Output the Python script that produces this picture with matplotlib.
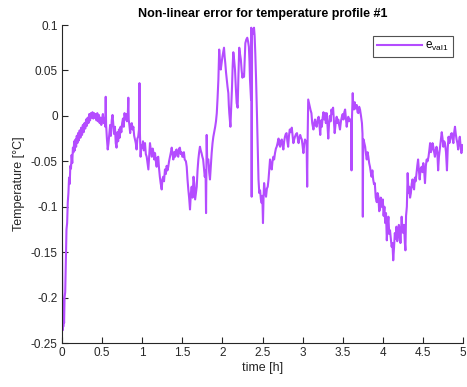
import matplotlib
matplotlib.use("Agg")
import matplotlib.pyplot as plt

plt.rcParams['font.family'] = ['Liberation Sans', 'DejaVu Sans']
plt.rcParams['mathtext.fontset'] = 'custom'
plt.rcParams['mathtext.rm'] = 'Liberation Sans'
plt.rcParams['mathtext.it'] = 'Liberation Sans'

# Time axis (hours)
time_h = [
    0.000, 0.004, 0.008, 0.012, 0.016, 0.020, 0.026, 0.032, 0.040, 0.048,
    0.056, 0.064, 0.072, 0.080, 0.088, 0.096, 0.104, 0.112, 0.120, 0.128,
    0.136, 0.144, 0.152, 0.160, 0.168, 0.176, 0.184, 0.192, 0.200, 0.210,
    0.220, 0.230, 0.240, 0.250, 0.260, 0.270, 0.280, 0.290, 0.300, 0.310,
    0.320, 0.330, 0.340, 0.350, 0.360, 0.370, 0.380, 0.390, 0.400, 0.410,
    0.420, 0.430, 0.440, 0.450, 0.460, 0.470, 0.480, 0.490, 0.500, 0.510,
    0.520, 0.530, 0.540, 0.545, 0.550, 0.560, 0.570, 0.580, 0.590, 0.600,
    0.610, 0.620, 0.630, 0.640, 0.650, 0.660, 0.670, 0.680, 0.690, 0.700,
    0.710, 0.720, 0.730, 0.740, 0.750, 0.760, 0.770, 0.780, 0.790, 0.800,
    0.810, 0.820, 0.827, 0.832, 0.840, 0.850, 0.860, 0.870, 0.880, 0.890,
    0.900, 0.910, 0.920, 0.930, 0.940, 0.950, 0.960, 0.966, 0.972, 0.980,
    0.990, 1.000, 1.010, 1.020, 1.035, 1.045, 1.056, 1.066, 1.077, 1.087,
    1.097, 1.108, 1.120, 1.130, 1.140, 1.150, 1.160, 1.170, 1.180, 1.190,
    1.200, 1.210, 1.220, 1.230, 1.243, 1.252, 1.262, 1.272, 1.284, 1.295,
    1.305, 1.315, 1.325, 1.335, 1.347, 1.358, 1.368, 1.378, 1.388, 1.398,
    1.410, 1.420, 1.430, 1.440, 1.450, 1.460, 1.470, 1.480, 1.490, 1.500,
    1.510, 1.520, 1.530, 1.545, 1.555, 1.565, 1.575, 1.585, 1.596, 1.607,
    1.617, 1.628, 1.640, 1.650, 1.660, 1.670, 1.680, 1.690, 1.700, 1.710,
    1.720, 1.730, 1.740, 1.750, 1.760, 1.770, 1.780, 1.790, 1.796, 1.800,
    1.804, 1.810, 1.825, 1.835, 1.845, 1.856, 1.866, 1.877, 1.887, 1.898,
    1.910, 1.920, 1.930, 1.940, 1.950, 1.960, 1.970, 1.980, 1.990, 2.000,
    2.010, 2.020, 2.028, 2.036, 2.045, 2.054, 2.064, 2.074, 2.080, 2.086,
    2.093, 2.100, 2.110, 2.120, 2.128, 2.136, 2.146, 2.157, 2.168, 2.178,
    2.190, 2.200, 2.210, 2.220, 2.230, 2.240, 2.250, 2.260, 2.270, 2.278,
    2.286, 2.298, 2.310, 2.320, 2.330, 2.338, 2.344, 2.352, 2.357, 2.360,
    2.365, 2.370, 2.382, 2.394, 2.402, 2.410, 2.420, 2.430, 2.440, 2.450,
    2.460, 2.470, 2.480, 2.490, 2.498, 2.506, 2.513, 2.520, 2.530, 2.544,
    2.555, 2.565, 2.575, 2.585, 2.594, 2.605, 2.615, 2.625, 2.635, 2.645,
    2.656, 2.667, 2.677, 2.688, 2.700, 2.710, 2.720, 2.730, 2.740, 2.750,
    2.760, 2.770, 2.780, 2.790, 2.800, 2.810, 2.820, 2.830, 2.840, 2.852,
    2.865, 2.875, 2.885, 2.895, 2.905, 2.918, 2.930, 2.940, 2.950, 2.960,
    2.970, 2.980, 2.990, 3.000, 3.010, 3.020, 3.030, 3.040, 3.050, 3.057,
    3.062, 3.070, 3.080, 3.090, 3.100, 3.110, 3.120, 3.135, 3.145, 3.155,
    3.165, 3.175, 3.188, 3.200, 3.210, 3.220, 3.230, 3.240, 3.250, 3.260,
    3.270, 3.280, 3.290, 3.300, 3.310, 3.320, 3.330, 3.340, 3.350, 3.360,
    3.370, 3.380, 3.390, 3.400, 3.412, 3.425, 3.435, 3.445, 3.455, 3.466,
    3.478, 3.490, 3.500, 3.510, 3.520, 3.530, 3.540, 3.550, 3.560, 3.570,
    3.580, 3.590, 3.605, 3.610, 3.615, 3.625, 3.632, 3.640, 3.650, 3.660,
    3.675, 3.685, 3.695, 3.705, 3.716, 3.728, 3.740, 3.747, 3.751, 3.755,
    3.760, 3.770, 3.780, 3.790, 3.800, 3.810, 3.820, 3.830, 3.840, 3.850,
    3.860, 3.870, 3.880, 3.890, 3.900, 3.912, 3.925, 3.935, 3.945, 3.955,
    3.965, 3.975, 3.985, 4.000, 4.010, 4.020, 4.030, 4.040, 4.050, 4.060,
    4.070, 4.080, 4.090, 4.100, 4.110, 4.120, 4.130, 4.140, 4.150, 4.160,
    4.170, 4.180, 4.190, 4.200, 4.210, 4.220, 4.235, 4.245, 4.255, 4.265,
    4.275, 4.282, 4.290, 4.300, 4.310, 4.320, 4.330, 4.340, 4.350, 4.360,
    4.370, 4.380, 4.390, 4.400, 4.410, 4.420, 4.430, 4.440, 4.450, 4.460,
    4.472, 4.485, 4.495, 4.505, 4.515, 4.526, 4.537, 4.547, 4.558, 4.570,
    4.580, 4.590, 4.600, 4.610, 4.620, 4.630, 4.640, 4.650, 4.660, 4.670,
    4.680, 4.690, 4.700, 4.710, 4.722, 4.735, 4.745, 4.755, 4.765, 4.775,
    4.788, 4.800, 4.810, 4.820, 4.830, 4.840, 4.850, 4.860, 4.870, 4.880,
    4.890, 4.900, 4.910, 4.920, 4.930, 4.940, 4.950, 4.960, 4.970, 4.980,
    4.990, 5.000,
]

# Non-linear error e_val1 (degC)
e_val1 = [
    -0.142, -0.185, -0.236, -0.205, -0.232, -0.215, -0.228, -0.200, -0.194, -0.160,
    -0.125, -0.118, -0.095, -0.085, -0.068, -0.075, -0.055, -0.058, -0.043, -0.052,
    -0.035, -0.040, -0.028, -0.038, -0.026, -0.034, -0.022, -0.030, -0.019, -0.027,
    -0.016, -0.024, -0.013, -0.021, -0.010, -0.018, -0.008, -0.014, -0.004, -0.011,
    -0.002, -0.008, 0.002, -0.005, 0.003, -0.002, 0.004, -0.003, 0.003, -0.002,
    0.002, -0.005, 0.003, -0.006, 0.001, -0.008, -0.002, -0.010, -0.003, 0.002,
    -0.008, -0.003, -0.012, 0.021, -0.010, -0.025, -0.037, -0.030, -0.020, -0.010,
    -0.022, -0.005, 0.001, -0.010, -0.020, -0.012, -0.030, -0.035, -0.018, -0.028,
    -0.015, -0.024, -0.012, -0.018, -0.008, -0.003, -0.012, 0.003, -0.004, 0.002,
    -0.006, 0.000, 0.020, -0.004, -0.010, -0.019, -0.010, -0.008, -0.015, -0.012,
    -0.022, -0.026, -0.030, -0.037, -0.025, -0.023, -0.015, 0.036, -0.020, -0.045,
    -0.032, -0.035, -0.028, -0.038, -0.030, -0.042, -0.045, -0.052, -0.059, -0.045,
    -0.030, -0.038, -0.045, -0.036, -0.040, -0.048, -0.041, -0.050, -0.056, -0.046,
    -0.045, -0.058, -0.067, -0.074, -0.081, -0.070, -0.067, -0.072, -0.059, -0.064,
    -0.055, -0.060, -0.056, -0.050, -0.045, -0.040, -0.035, -0.042, -0.048, -0.040,
    -0.045, -0.038, -0.037, -0.044, -0.045, -0.036, -0.035, -0.042, -0.040, -0.045,
    -0.045, -0.040, -0.048, -0.050, -0.056, -0.070, -0.081, -0.090, -0.103, -0.085,
    -0.078, -0.090, -0.067, -0.075, -0.092, -0.085, -0.078, -0.060, -0.048, -0.040,
    -0.034, -0.038, -0.041, -0.045, -0.048, -0.058, -0.067, -0.060, -0.107, -0.060,
    -0.021, -0.048, -0.048, -0.062, -0.070, -0.055, -0.041, -0.030, -0.023, -0.018,
    -0.012, -0.006, 0.003, 0.020, 0.040, 0.073, 0.060, 0.051, 0.058, 0.065,
    0.070, 0.075, 0.065, 0.058, 0.048, 0.040, 0.032, 0.025, 0.012, 0.003,
    -0.005, -0.012, 0.010, 0.032, 0.055, 0.070, 0.062, 0.051, 0.030, 0.014,
    0.009, 0.045, 0.075, 0.068, 0.062, 0.050, 0.042, 0.046, 0.043, 0.062,
    0.080, 0.084, 0.086, 0.082, 0.076, 0.060, 0.040, 0.025, 0.018, 0.097,
    -0.089, 0.095, 0.090, 0.097, 0.088, 0.069, 0.040, 0.005, -0.035, -0.070,
    -0.085, -0.082, -0.092, -0.096, -0.088, -0.118, -0.090, -0.074, -0.082, -0.089,
    -0.080, -0.078, -0.070, -0.058, -0.048, -0.055, -0.059, -0.050, -0.045, -0.048,
    -0.041, -0.036, -0.034, -0.030, -0.025, -0.032, -0.034, -0.028, -0.026, -0.032,
    -0.037, -0.028, -0.023, -0.020, -0.019, -0.028, -0.034, -0.022, -0.015, -0.018,
    -0.013, -0.022, -0.030, -0.026, -0.023, -0.020, -0.019, -0.025, -0.030, -0.024,
    -0.021, -0.024, -0.026, -0.033, -0.041, -0.032, -0.026, -0.028, -0.030, -0.078,
    -0.030, 0.018, 0.014, 0.010, 0.006, 0.003, -0.008, -0.015, -0.008, -0.004,
    -0.010, -0.012, -0.004, -0.001, -0.010, -0.021, -0.005, -0.012, -0.002, 0.004,
    -0.004, 0.003, -0.008, 0.003, -0.010, -0.025, -0.008, 0.000, -0.006, 0.007,
    0.002, 0.009, -0.005, -0.019, -0.008, -0.001, -0.008, -0.004, -0.010, -0.015,
    -0.006, -0.001, 0.002, -0.004, 0.004, 0.007, -0.002, -0.012, -0.005, -0.001,
    -0.006, -0.004, -0.004, -0.060, -0.004, 0.025, 0.010, 0.007, 0.015, 0.008,
    0.012, 0.004, 0.003, 0.010, 0.007, 0.000, -0.008, -0.020, -0.111, -0.030,
    -0.026, -0.030, -0.034, -0.042, -0.048, -0.040, -0.045, -0.052, -0.056, -0.062,
    -0.067, -0.060, -0.070, -0.075, -0.074, -0.090, -0.095, -0.085, -0.089, -0.105,
    -0.103, -0.090, -0.100, -0.092, -0.110, -0.100, -0.118, -0.107, -0.137, -0.120,
    -0.111, -0.130, -0.126, -0.135, -0.144, -0.140, -0.159, -0.145, -0.129, -0.135,
    -0.122, -0.138, -0.133, -0.120, -0.126, -0.140, -0.111, -0.125, -0.129, -0.120,
    -0.140, -0.148, -0.110, -0.100, -0.063, -0.085, -0.078, -0.090, -0.085, -0.075,
    -0.070, -0.078, -0.081, -0.068, -0.072, -0.063, -0.055, -0.048, -0.060, -0.070,
    -0.058, -0.056, -0.062, -0.052, -0.060, -0.074, -0.055, -0.048, -0.050, -0.045,
    -0.038, -0.030, -0.040, -0.037, -0.030, -0.034, -0.040, -0.045, -0.038, -0.034,
    -0.040, -0.060, -0.045, -0.037, -0.028, -0.018, -0.025, -0.034, -0.028, -0.030,
    -0.040, -0.060, -0.035, -0.023, -0.030, -0.026, -0.020, -0.019, -0.025, -0.030,
    -0.018, -0.012, -0.020, -0.026, -0.030, -0.037, -0.028, -0.023, -0.033, -0.041,
    -0.032, -0.037,
]

x_ticks = [0, 0.5, 1, 1.5, 2, 2.5, 3, 3.5, 4, 4.5, 5]
x_tick_labels = ['0', '0.5', '1', '1.5', '2', '2.5', '3', '3.5', '4', '4.5', '5']
y_ticks = [-0.25, -0.2, -0.15, -0.1, -0.05, 0, 0.05, 0.1]
y_tick_labels = ['-0.25', '-0.2', '-0.15', '-0.1', '-0.05', '0', '0.05', '0.1']

line_color = '#B44CFF'
ink = '#262626'

fig = plt.figure(figsize=(4.67, 3.87), dpi=100)
ax = fig.add_axes([62 / 467, 1 - 343 / 387, 401 / 467, 318 / 387])

ax.plot(time_h, e_val1, color=line_color, linewidth=1.5,
        label=r'$\mathregular{e_{val1}}$')

ax.set_xlim(0, 5)
ax.set_ylim(-0.25, 0.1)
ax.set_xticks(x_ticks)
ax.set_xticklabels(x_tick_labels)
ax.set_yticks(y_ticks)
ax.set_yticklabels(y_tick_labels)

for side in ('top', 'right'):
    ax.spines[side].set_visible(False)
for side in ('left', 'bottom'):
    ax.spines[side].set_color(ink)
    ax.spines[side].set_linewidth(0.8)

ax.tick_params(direction='in', length=4, width=0.8, colors=ink,
               labelsize=8.5, pad=3)

ax.set_xlabel('time [h]', fontsize=9, color=ink, labelpad=2)
ax.set_ylabel('Temperature [°C]', fontsize=9, color=ink, labelpad=4)
ax.set_title('Non-linear error for temperature profile #1',
             fontsize=9, fontweight='bold', color='black', pad=6)

leg = ax.legend(loc='upper right',
                bbox_to_anchor=((453 - 62) / 401, 1 - (36 - 25) / 318),
                borderaxespad=0, fontsize=8.5, frameon=True, fancybox=False,
                handlelength=3.8, handletextpad=0.3, borderpad=0.35)
leg.get_frame().set_edgecolor(ink)
leg.get_frame().set_linewidth(0.8)

fig.savefig('out.png', dpi=100)
